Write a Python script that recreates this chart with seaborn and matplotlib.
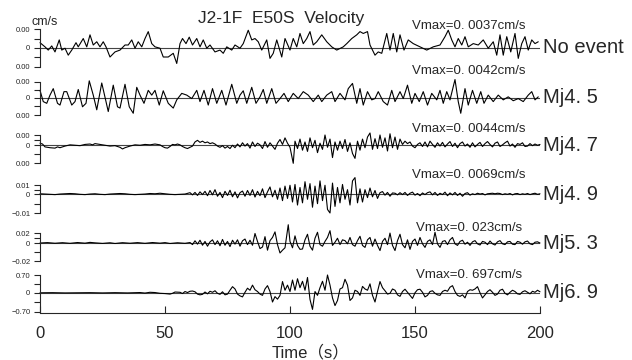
import numpy as np
import pandas as pd
import seaborn as sns
import matplotlib.pyplot as plt

# traces: (time s, velocity) pairs
# panels 1-5 in 1e-4 cm/s, panel 6 in cm/s
trace_no_event = [
    (0, 11), (2, 2), (3.3, -5), (4.7, 4), (6, -9), (7.7, 17), (8.7, -5), (10, -1), (11.3, -16),
    (12.7, -5), (14.4, 11), (15.3, 2), (17.3, 20), (18.7, 2), (20, 28), (21.3, 6), (22.7, 13),
    (24, 2), (25.3, 13), (26.4, 2), (28, -20), (30, -9), (32, -5), (34, 6), (35.3, 6), (36.7, 17),
    (38, -1), (39.3, 13), (40.7, 2), (42, 20), (43.3, 35), (44.7, 9), (46, 2), (48, -1), (49.3, -20),
    (51.3, -20), (53.3, -12), (54.7, -34), (56, 9), (57, 20), (58.4, 9), (59.7, 23), (61, 6),
    (62.7, 20), (64, 2), (65.3, 17), (66.7, -1), (68, 6), (70, -9), (72, -5), (73.3, -12), (74.7, 2),
    (76.7, -5), (78, 6), (80, -1), (81.3, 9), (83.3, 38), (84.7, 17), (86, 20), (87.3, 13),
    (88.7, -5), (90.7, 17), (92, -23), (93.3, -12), (94.7, 17), (96.7, -20), (98, 20), (100, -5),
    (101.3, 20), (102.7, 2), (104, 31), (105.3, 9), (106.7, 20), (108, 35), (109.3, 6), (110.7, 13),
    (112.7, 28), (114.7, 13), (116.7, 2), (118.7, -5), (121.3, 2), (122.7, 9), (124.7, 20),
    (126.7, 28), (128, 35), (129.3, 31), (131, 35), (132, 6), (134, -16), (135.3, -9), (136.7, -12),
    (138.7, 31), (140, -5), (141.3, 31), (142.7, -9), (144, 28), (145.6, -5), (147.3, 17),
    (149.3, 9), (152, 2), (154.7, -5), (157.3, 2), (160, 6), (162, 24), (163.3, 38), (164.7, 17),
    (166, 2), (167.3, 20), (168.7, 6), (170, 24), (171.3, 2), (173.3, 9), (175.3, 6), (177.3, 17),
    (179.3, -1), (181.3, 13), (182.7, -16), (184, 28), (185.3, -16), (186.7, 24), (188.3, -9),
    (190, 31), (191.3, -23), (192.7, 9), (194, 24), (195.3, -5), (196.7, 17), (198, 9), (199.3, 13),
]
trace_mj45 = [
    (0, 17), (1.3, -9), (2.7, -13), (4, 6), (5.3, 21), (7, -13), (8, -17), (9.6, 14), (10.7, 14),
    (12.7, -17), (14, -9), (15.3, 19), (17, -21), (18.4, -13), (19.7, 39), (21.3, 6), (22.7, -28),
    (24.7, 34), (26.4, -9), (27.3, -32), (29.3, 29), (31, -21), (32, -24), (34, 31), (35.7, -21),
    (37.3, -36), (38.7, 24), (40, 6), (41.6, -13), (43.3, 17), (44.7, 6), (46, 17), (47.7, -17),
    (49.3, 16), (51.3, -13), (53.3, -24), (54.7, -5), (56.7, 10), (58.7, 6), (60.7, -2), (62.7, 17),
    (64, -9), (65.6, 17), (67.3, -17), (69, 21), (70.7, -13), (72.7, 17), (74.4, -17), (76.7, 31),
    (78.7, -13), (80, 6), (81.3, 16), (82.7, -13), (84.7, 24), (86.4, -13), (88, 2), (89.3, 19),
    (90.7, -13), (92.7, 21), (94.4, -13), (96, -2), (97.6, 10), (99.3, -9), (101.3, 10), (103.3, -2),
    (105.3, 14), (107.3, 6), (109.3, -9), (111.3, 6), (112.7, -9), (114.7, 6), (116.7, 14),
    (118, -9), (120, 10), (122, -5), (123.3, 21), (125, 33), (126.7, -13), (128, 21), (129.3, -17),
    (131, 14), (132.7, -5), (134, -2), (135.3, 14), (137.3, -9), (139, -17), (140.7, 17), (142, -9),
    (144, 14), (145.3, -2), (147, 29), (148.7, -13), (150, 10), (151.7, -9), (153.3, 14), (155, -17),
    (156.7, 10), (158.7, -5), (160, 17), (161.3, -13), (162.7, 14), (164, -5), (166, 42), (167.3, -9),
    (168.3, -36), (170, 21), (171.3, -17), (173, 17), (174.7, -13), (176.3, 14), (177.6, -13),
    (179.3, 6), (181.3, -9), (183.3, 6), (185.3, -5), (187.3, 2), (189.3, -7), (191.3, -2),
    (193.3, -9), (195.3, 6), (196.7, 14), (198, -5), (199.3, 2),
]
trace_mj47 = [
    (0, 5), (1, 3), (2, -4), (3, -5), (4, -6), (6, -7), (7, -4), (8, -6), (10, -2), (12, 1), (14, 0),
    (16, -1), (18, 2), (20, 3), (21, 1), (22, 4), (24, 2), (26, 0), (28, -2), (30, -1), (32, -5),
    (33, -9), (34, -6), (36, -2), (38, 1), (40, 0), (42, 2), (44, 1), (46, 3), (48, 1), (49, -3),
    (50, -6), (51, -7), (52, -3), (53, 2), (54, 1), (55, 3), (56, 1), (57, -3), (58, -6), (59, -8),
    (60, -5), (61, -2), (62, 8), (63, 12), (64, 7), (65, 10), (66, 6), (67, 8), (68, 4), (69, 6),
    (70, 3), (71, -2), (72, -5), (73, -1), (74, -7), (75, -3), (76, -8), (77, 0), (78, -6), (79, 3),
    (80, -4), (81, 6), (82, -2), (83, 4), (84, -7), (85, 8), (86, -3), (87, 5), (88, 1), (89, -8),
    (90, 9), (91, -5), (92, 6), (93, -2), (94, -10), (95, 5), (96, 14), (97, 2), (98, 18), (99, 5),
    (100, -5), (101.3, -44), (102, 10), (103, -8), (104, 15), (105, -12), (106, 8), (107, -15),
    (108, 18), (109, -6), (110, 12), (111, -18), (112, 5), (113, -10), (114, 25), (115, -5),
    (116, 15), (117, -30), (118, 8), (119, -12), (120, 10), (121, -8), (122, 14), (123, -15),
    (124, 6), (125, -20), (126, -32), (127, 10), (128, -12), (129, 15), (130, -6), (131, 20),
    (132, 30), (133, -10), (134, 16), (135, -8), (136, 25), (137, -5), (138, 18), (139, -14),
    (140, 28), (141, -6), (142, 20), (143, -10), (144, 15), (145, 2), (146, 10), (147, 4), (148, 8),
    (149, -2), (150, -6), (151, 2), (152, 6), (153, -3), (154, 8), (155, -4), (156, 10), (157, 2),
    (158, -5), (159, 6), (160, -2), (161, 7), (162, -4), (163, 3), (164, 9), (165, -3), (166, 5),
    (167, -6), (168, 4), (169, 8), (170, -2), (171, 3), (172, -5), (173, 6), (174, -4), (175, 2),
    (176, 7), (177, -3), (178, 4), (179, 9), (180, 2), (181, -4), (182, 5), (183, 8), (184, -3),
    (185, 1), (186, 6), (187, 10), (188, -2), (189, 3), (190, -5), (191, 4), (192, 2), (193, 6),
    (194, -3), (195, -2), (196, 4), (197, -1), (198, 3), (199, 0), (200, 2),
]
trace_mj49 = [
    (0, 1), (2, 0), (4, -1), (6, -2), (8, 0), (10, 1), (12, 2), (14, 1), (16, -1), (18, -2), (20, 0),
    (22, 1), (24, -1), (26, -2), (28, 0), (30, 1), (32, 2), (34, 1), (36, -1), (38, -2), (40, -1),
    (42, 0), (44, 2), (46, 1), (48, 3), (50, 1), (52, -1), (54, -2), (56, -1), (58, 0), (60, 5),
    (61, -3), (62, 6), (63, -5), (64, 8), (65, -2), (66, 10), (67, -6), (68, 13), (69, -3), (70, 16),
    (71, -8), (72, 6), (73, -13), (74, 10), (75, -5), (76, 14), (77, -10), (78, 8), (79, -14),
    (80, 5), (81, 11), (82, -8), (83, 13), (84, -5), (85, 16), (86, -11), (87, 10), (88, -6),
    (89, 19), (90, -13), (91, 8), (92, 26), (93, -10), (94, 14), (95, -19), (96, 22), (97, -24),
    (98, 29), (99, -16), (100, 32), (101, -29), (102, 35), (103, -40), (104, 24), (105, -32),
    (106, 45), (107, -19), (108, 38), (109, -48), (110, 29), (111, -35), (112, 48), (113, -24),
    (114, 32), (115, -56), (116, -69), (117, 40), (118, -45), (119, 24), (120, -32), (121, 35),
    (122, -19), (123, 16), (124, -40), (125, 48), (126, 60), (127, -32), (128, 19), (129, -29),
    (130, 16), (131, -13), (132, 22), (133, -10), (134, 13), (135, -16), (136, 5), (137, 9),
    (138, -4), (139, 6), (140, -8), (141, 4), (142, 3), (143, -3), (144, 5), (145, -2), (146, 6),
    (147, -5), (148, 3), (149, 7), (150, -4), (151, 2), (152, -6), (153, 4), (154, -2), (155, 5),
    (156, 8), (157, -3), (158, 6), (159, -5), (160, 3), (161, -2), (162, 7), (163, -6), (164, 4),
    (165, -3), (166, 6), (167, -5), (168, 3), (169, -8), (170, 2), (171, 5), (172, -4), (173, 1),
    (174, -2), (175, 3), (176, 0), (177, 2), (178, -3), (179, 1), (180, 2), (181, 3), (182, 1),
    (183, 3), (184, 2), (185, -2), (186, 1), (187, -1), (188, 2), (189, -3), (190, 1), (191, 2),
    (192, -2), (193, 1), (194, -1), (195, 2), (196, -2), (197, 1), (198, 3), (199, -1), (200, 1),
]
trace_mj53 = [
    (0, 0), (3, 5), (6, -3), (9, 4), (12, -4), (15, 6), (18, -2), (20, 8), (22, 2), (25, -5), (28, 3),
    (30, -6), (33, 4), (36, -3), (39, 5), (42, -4), (45, 6), (48, -2), (50, 5), (52, -6), (55, 3),
    (58, -4), (60, 6), (61, -20), (62, 28), (63, -14), (64, 35), (65, -28), (66, 20), (67, -40),
    (68, 14), (69, 40), (70, -20), (71, 28), (72, -35), (73, 45), (74, -28), (75, 20), (76, -45),
    (77, 35), (78, -14), (79, 40), (80, -40), (81, 28), (82, 50), (83, -20), (84, 35), (85, -28),
    (86, 120), (87, 20), (88, -70), (89, -50), (90, 80), (91, -90), (92, 30), (93, 70), (94, 140),
    (95, -20), (96, -125), (97, -90), (98, -60), (99.3, 230), (100, 20), (101, -60), (102, 90),
    (103, -30), (104, -80), (105, -75), (106, 40), (107, 110), (108, -40), (109, -90), (110, 60),
    (111, 135), (112, -20), (113, -40), (114, 20), (115, 70), (116, 155), (117, -30), (118, 10),
    (119, 60), (120, -20), (121, 40), (122, 30), (123, -10), (124, 70), (125, -20), (126, -40),
    (127, 30), (128, 85), (129, -30), (130, -55), (131, 40), (132, 70), (133, -40), (134, 50),
    (135, -30), (136, -95), (137, 20), (138, 60), (139, -20), (140, 125), (141, -30), (142, -95),
    (143, 30), (144, 110), (145, -20), (146, -60), (147, 40), (148, -80), (149, 20), (150, 50),
    (151, -30), (152, 70), (153, -10), (154, -55), (155, 20), (156, 40), (157, -20), (158, 135),
    (159, -10), (160, -55), (161, 20), (162, 30), (163, -20), (164, 40), (165, 70), (166, -10),
    (167, -30), (168, 20), (169, 35), (170, -15), (171, 10), (172, -30), (173, 15), (174, 30),
    (175, -10), (176, -25), (177, 20), (178, 10), (179, -20), (180, 25), (181, -10), (182, -25),
    (183, 15), (184, 30), (185, -10), (186, -20), (187, 15), (188, 20), (189, -15), (190, -20),
    (191, 20), (192, 10), (193, -15), (194, 15), (195, 25), (196, -10), (197, -20), (198, 10),
    (199, 15), (200, 0),
]
trace_mj69 = [
    (0, 0), (5, 0.005), (10, -0.005), (15, 0.0), (20, 0.005), (25, -0.005), (30, 0.005),
    (35, -0.005), (40, 0.01), (42, -0.01), (44, 0.02), (46, 0.01), (48, -0.02), (50, -0.03),
    (52, -0.05), (53, -0.02), (54, 0.03), (56, 0.02), (57, -0.03), (58, 0.05), (59, 0.01), (60, 0.06),
    (61, 0.07), (62, 0.04), (63, -0.05), (64, -0.08), (65, -0.06), (66, 0.03), (67, -0.04),
    (68, 0.06), (69, 0.02), (70, 0.08), (71, -0.02), (72, -0.06), (73, 0.04), (74, -0.08),
    (75, -0.05), (76, 0.1), (77, 0.24), (78, 0.15), (79, -0.05), (80, -0.12), (81, -0.16), (82, 0.02),
    (83, 0.18), (84, 0.1), (85, 0.3), (86, 0.12), (87, 0.05), (88, -0.05), (89, -0.1), (90, 0.15),
    (91, 0.28), (92, 0.05), (93, -0.36), (94, -0.15), (95, -0.25), (96, -0.1), (97, 0.44), (98, 0.1),
    (99, 0.3), (100, 0.05), (101, 0.5), (102, 0.1), (103, 0.55), (104, 0.2), (105, 0.45), (106, 0.1),
    (107, 0.6), (108, -0.26), (109, -0.65), (110, 0.05), (111, -0.1), (112, 0.2), (113, 0.45),
    (114, 0.1), (115, 0.697), (116, 0.3), (117, -0.2), (118, -0.5), (119, -0.3), (120, 0.15),
    (121, 0.2), (122, 0.53), (123, 0.3), (124, -0.3), (125, -0.2), (126, 0.1), (127, 0.05),
    (128, -0.1), (129, 0.25), (130, 0.15), (131, 0.1), (132, 0.35), (133, -0.1), (134, -0.36),
    (135, 0.05), (136, 0.44), (137, 0.2), (138, 0.08), (139, -0.05), (140, -0.02), (141, 0.15),
    (142, 0.1), (143, -0.08), (144, -0.14), (145, 0.05), (146, 0.14), (147, 0.02), (148, -0.1),
    (149, -0.22), (150, 0.0), (151, 0.12), (152, 0.14), (153, 0.02), (154, -0.16), (155, -0.1),
    (156, 0.05), (157, 0.08), (158, -0.02), (159, -0.08), (160, -0.1), (161, 0.05), (162, 0.1),
    (163, 0.06), (164, 0.22), (165, 0.28), (166, 0.05), (167, -0.1), (168, -0.14), (169, -0.08),
    (170, -0.2), (171, 0.05), (172, 0.12), (173, 0.1), (174, 0.15), (175, 0.24), (176, 0.0),
    (177, -0.2), (178, -0.08), (179, 0.05), (180, 0.12), (181, 0.02), (182, -0.1), (183, -0.05),
    (184, 0.1), (185, 0.14), (186, -0.02), (187, -0.08), (188, 0.02), (189, 0.1), (190, 0.05),
    (191, -0.04), (192, -0.06), (193, 0.04), (194, 0.08), (195, 0.02), (196, -0.04), (197, 0.06),
    (198, 0.02), (199, 0.1), (200, 0.04),
]

traces = [trace_no_event, trace_mj45, trace_mj47, trace_mj49, trace_mj53, trace_mj69]
units = [1e-4, 1e-4, 1e-4, 1e-4, 1e-4, 1.0]
events = ["No event", "Mj4. 5", "Mj4. 7", "Mj4. 9", "Mj5. 3", "Mj6. 9"]
vmax_labels = ["Vmax=0. 0037cm/s", "Vmax=0. 0042cm/s", "Vmax=0. 0044cm/s",
               "Vmax=0. 0069cm/s", "Vmax=0. 023cm/s", "Vmax=0. 697cm/s"]
# where the top / bottom axis ticks sit, in data units, as drawn in the picture
y_top = [0.004, 0.0037, 0.0025, 0.0033, 0.0126, 0.697]
y_bottom = [-0.0041, -0.004, -0.0044, -0.0069, -0.023, -0.74]
y_top_labels = ["0.00", "0.00", "0.00", "0.01", "0.02", "0.70"]
y_bottom_labels = ["0.00", "0.00", "0.00", "\u22120.01", "\u22120.02", "\u22120.70"]
x_ticks = [0, 50, 100, 150, 200]

sns.set_style("ticks")
plt.rcParams['font.family'] = ['Liberation Sans', 'Noto Sans CJK SC', 'DejaVu Sans']

W, H = 632, 360
fig = plt.figure(figsize=(W / 100, H / 100), dpi=100)

# panel extents in pixels from the top (top tick, bottom tick)
panel_top = [29.3, 81.7, 135, 185, 233, 275]
panel_bot = [66.7, 115, 163.3, 213, 261.3, 311.7]
vmax_offset = [22, 27, 16, 19.5, 15, 18]
left, right = 40, 540

for i, tr in enumerate(traces):
    ax = fig.add_axes([left / W, 1 - panel_bot[i] / H, (right - left) / W,
                       (panel_bot[i] - panel_top[i]) / H])
    df = pd.DataFrame(tr, columns=["t", "v"])
    df["v"] = df["v"] * units[i]
    sns.lineplot(data=df, x="t", y="v", ax=ax, color="black", lw=0.8,
                 estimator=None, sort=False)
    ax.lines[0].set_clip_on(False)
    ax.axhline(0, color="#444444", lw=0.8, zorder=0)
    top, bot = y_top[i], y_bottom[i]
    ax.set_xlim(0, 200)
    ax.set_ylim(bot, top)
    ax.set_xlabel("")
    ax.set_ylabel("")
    ax.set_yticks([bot, 0, top])
    ax.set_yticklabels([y_bottom_labels[i], "0", y_top_labels[i]])
    ax.set_yticks([bot / 2, top / 2], minor=True)
    ax.tick_params(axis="y", which="both", direction="out", length=4, width=0.8,
                   labelsize=5.5, pad=3)
    for s in ["top", "right"]:
        ax.spines[s].set_visible(False)
    ax.spines["left"].set_linewidth(0.8)
    if i < len(traces) - 1:
        ax.spines["bottom"].set_visible(False)
        ax.set_xticks([])
    else:
        ax.set_xticks(x_ticks)
        ax.tick_params(axis="x", direction="in", length=5, width=0.8, labelsize=12, pad=9)
        ax.spines["bottom"].set_linewidth(0.8)
        ax.spines["bottom"].set_position(("outward", 1))
    ax.text(201.2, 0, events[i], fontsize=14.5, ha="left", va="center", clip_on=False)
    ax.annotate(vmax_labels[i], xy=(171.5, 0), xytext=(0, vmax_offset[i] * 0.72),
                textcoords="offset points", fontsize=9.5, ha="center", va="center",
                annotation_clip=False)

fig.text(281 / W, 1 - 19 / H, "J2-1F  E50S  Velocity", fontsize=12.5, ha="center", va="center")
fig.text(32 / W, 1 - 22 / H, "cm/s", fontsize=9, ha="left", va="center")
fig.text(311 / W, 1 - 352 / H, "Time\uff08s\uff09", fontsize=12, ha="center", va="center")

fig.savefig("out.png", dpi=100)
